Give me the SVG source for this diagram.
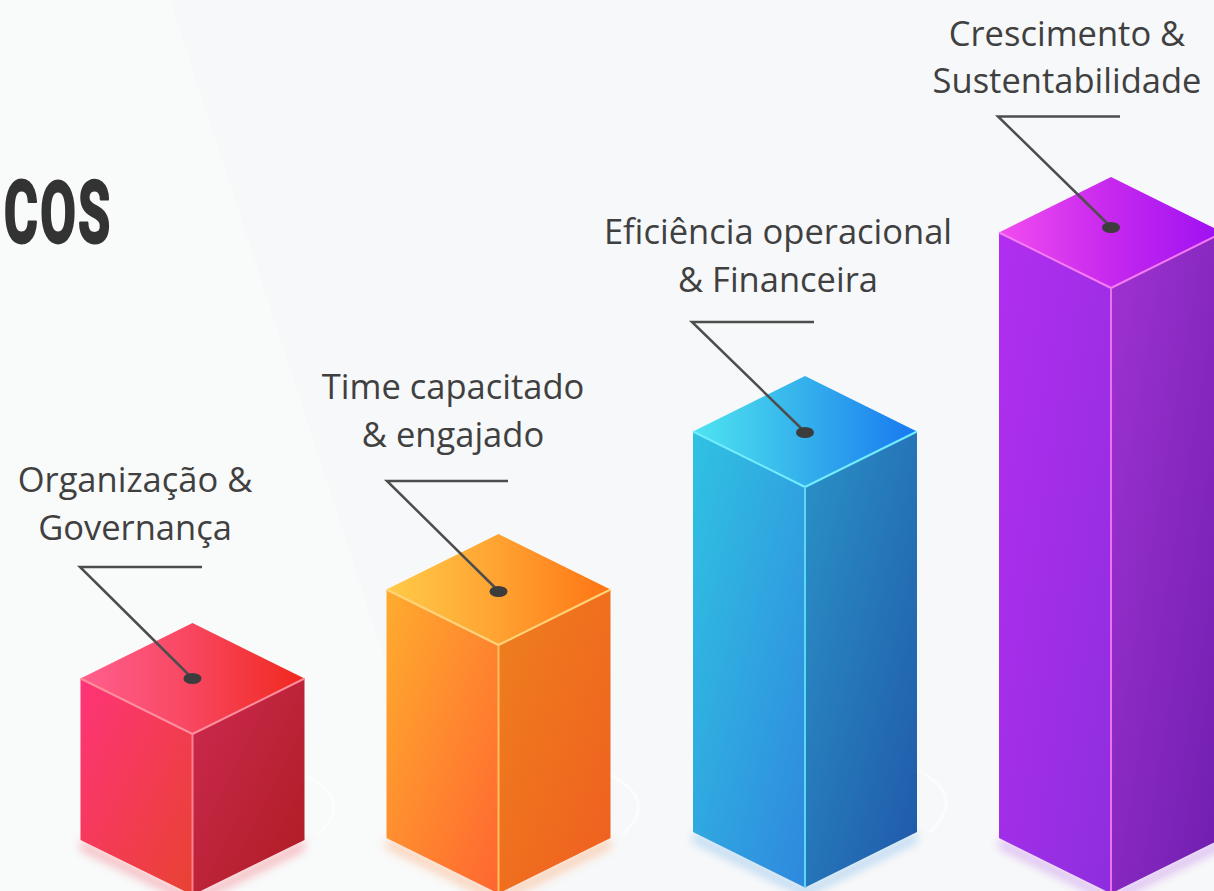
<svg xmlns="http://www.w3.org/2000/svg" width="1214" height="891" viewBox="0 0 1214 891">
  <defs>
    <style>
      .lbl { font-family: "Open Sans", "Noto Sans", "Liberation Sans", sans-serif; font-size: 34.5px; fill: #404040; text-anchor: middle; }
      .conn { fill: none; stroke: #4d4d4d; stroke-width: 2.5; stroke-linejoin: miter; }
      .dot { fill: #3c3c3c; }
      .edge { fill: none; stroke-width: 2; stroke-linejoin: round; }
      .title { font-family: "Roboto", "Liberation Sans", sans-serif; font-weight: 700; font-size: 86px; fill: #333333; stroke: #333333; stroke-width: 3; stroke-linejoin: round; letter-spacing: 4px; }
    </style>
    <filter id="soft" x="-20%" y="-20%" width="140%" height="140%">
      <feGaussianBlur stdDeviation="5"/>
    </filter>
    <!-- red -->
    <linearGradient id="rTop" x1="0" y1="0" x2="1" y2="0">
      <stop offset="0" stop-color="#ff5f8f"/><stop offset="0.5" stop-color="#f8465f"/><stop offset="1" stop-color="#f0281c"/>
    </linearGradient>
    <linearGradient id="rLeft" x1="0" y1="0" x2="1" y2="1">
      <stop offset="0" stop-color="#ff3478"/><stop offset="1" stop-color="#e84232"/>
    </linearGradient>
    <linearGradient id="rRight" x1="0" y1="0" x2="1" y2="1">
      <stop offset="0" stop-color="#cc2a50"/><stop offset="1" stop-color="#ae1c22"/>
    </linearGradient>
    <!-- orange -->
    <linearGradient id="oTop" x1="0" y1="0" x2="1" y2="0">
      <stop offset="0" stop-color="#ffcb48"/><stop offset="0.5" stop-color="#ffa232"/><stop offset="1" stop-color="#ff7414"/>
    </linearGradient>
    <linearGradient id="oLeft" x1="0" y1="0" x2="1" y2="1">
      <stop offset="0" stop-color="#ffac2e"/><stop offset="1" stop-color="#ff6630"/>
    </linearGradient>
    <linearGradient id="oRight" x1="0" y1="0" x2="1" y2="1">
      <stop offset="0" stop-color="#ee801e"/><stop offset="1" stop-color="#f05e20"/>
    </linearGradient>
    <!-- blue -->
    <linearGradient id="bTop" x1="0" y1="0" x2="1" y2="0">
      <stop offset="0" stop-color="#4ee4f0"/><stop offset="0.5" stop-color="#34b0ec"/><stop offset="1" stop-color="#1878f0"/>
    </linearGradient>
    <linearGradient id="bLeft" x1="0" y1="0" x2="1" y2="1">
      <stop offset="0" stop-color="#30c2e2"/><stop offset="1" stop-color="#2f88de"/>
    </linearGradient>
    <linearGradient id="bRight" x1="0" y1="0" x2="1" y2="1">
      <stop offset="0" stop-color="#2a92c6"/><stop offset="1" stop-color="#2058aa"/>
    </linearGradient>
    <!-- purple -->
    <linearGradient id="pTop" x1="0" y1="0" x2="1" y2="0">
      <stop offset="0" stop-color="#f24cf0"/><stop offset="0.5" stop-color="#c628ee"/><stop offset="1" stop-color="#9c10f2"/>
    </linearGradient>
    <linearGradient id="pLeft" x1="0" y1="0" x2="1" y2="1">
      <stop offset="0" stop-color="#b22ef0"/><stop offset="1" stop-color="#8e2ede"/>
    </linearGradient>
    <linearGradient id="pRight" x1="0" y1="0" x2="1" y2="1">
      <stop offset="0" stop-color="#a032d2"/><stop offset="1" stop-color="#6e1eae"/>
    </linearGradient>
  </defs>

  <!-- background -->
  <rect width="1214" height="891" fill="#f7f8f9"/>
  <polygon points="0,0 170,0 460,891 0,891" fill="#f9fafa"/>

  <!-- faint base arcs -->
  <g fill="none" stroke="#ffffff" stroke-width="3" opacity="0.6">
    <path d="M 305,775 Q 355,800 318,835"/>
    <path d="M 610,775 Q 660,800 622,835"/>
    <path d="M 917,770 Q 968,795 930,832"/>
  </g>

  <!-- title fragment -->
  <g id="title">
    <text class="title" transform="translate(4,242) scale(0.6,1)">COS</text>
  </g>

  <!-- cube 1: red -->
  <g id="cube-organizacao">
    <polygon points="80.5,840 192.5,895 304.5,840 304.5,850 192.5,905 80.5,850" fill="#f04050" opacity="0.35" filter="url(#soft)"/>
    <polygon points="80.5,678.5 192.5,734 192.5,895 80.5,840" fill="url(#rLeft)"/>
    <polygon points="192.5,734 304.5,678.5 304.5,840 192.5,895" fill="url(#rRight)"/>
    <polygon points="192.5,623 304.5,678.5 192.5,734 80.5,678.5" fill="url(#rTop)"/>
    <polyline class="edge" stroke="#ff8e9c" points="80.5,678.5 192.5,734 304.5,678.5"/>
    <line class="edge" stroke="#ff8090" x1="192.5" y1="734" x2="192.5" y2="895"/>
    <text class="lbl" x="135" y="492">Organização &amp;</text>
    <text class="lbl" x="135" y="540">Governança</text>
  </g>

  <!-- cube 2: orange -->
  <g id="cube-time">
    <polygon points="386.5,838 498.5,893.5 610.5,838 610.5,848 498.5,903 386.5,848" fill="#ff8030" opacity="0.35" filter="url(#soft)"/>
    <polygon points="386.5,589.5 498.5,645 498.5,893.5 386.5,838" fill="url(#oLeft)"/>
    <polygon points="498.5,645 610.5,589.5 610.5,838 498.5,893.5" fill="url(#oRight)"/>
    <polygon points="498.5,534 610.5,589.5 498.5,645 386.5,589.5" fill="url(#oTop)"/>
    <polyline class="edge" stroke="#ffd47a" points="386.5,589.5 498.5,645 610.5,589.5"/>
    <line class="edge" stroke="#ffbe60" x1="498.5" y1="645" x2="498.5" y2="893.5"/>
    <text class="lbl" x="453" y="399">Time capacitado</text>
    <text class="lbl" x="453" y="447">&amp; engajado</text>
  </g>

  <!-- cube 3: blue -->
  <g id="cube-eficiencia">
    <polygon points="693,832 805,887.5 917,832 917,842 805,897 693,842" fill="#3090e0" opacity="0.3" filter="url(#soft)"/>
    <polygon points="693,431.5 805,487 805,887.5 693,832" fill="url(#bLeft)"/>
    <polygon points="805,487 917,431.5 917,832 805,887.5" fill="url(#bRight)"/>
    <polygon points="805,376 917,431.5 805,487 693,431.5" fill="url(#bTop)"/>
    <polyline class="edge" stroke="#72ecff" points="693,431.5 805,487 917,431.5"/>
    <line class="edge" stroke="#5ad8f8" x1="805" y1="487" x2="805" y2="887.5"/>
    <text class="lbl" x="778" y="244">Eficiência operacional</text>
    <text class="lbl" x="778" y="292">&amp; Financeira</text>
  </g>

  <!-- cube 4: purple -->
  <g id="cube-crescimento">
    <polygon points="999,838 1111,893.5 1223,838 1223,848 1111,903 999,848" fill="#a030e0" opacity="0.3" filter="url(#soft)"/>
    <polygon points="999,232.5 1111,288 1111,893.5 999,838" fill="url(#pLeft)"/>
    <polygon points="1111,288 1223,232.5 1223,838 1111,893.5" fill="url(#pRight)"/>
    <polygon points="1111,177 1223,232.5 1111,288 999,232.5" fill="url(#pTop)"/>
    <polyline class="edge" stroke="#f47cf4" points="999,232.5 1111,288 1223,232.5"/>
    <line class="edge" stroke="#f070f0" x1="1111" y1="288" x2="1111" y2="893.5"/>
    <text class="lbl" x="1067" y="46">Crescimento &amp;</text>
    <text class="lbl" x="1067" y="93">Sustentabilidade</text>
  </g>

  <!-- connectors -->
  <g id="connectors">
    <polyline class="conn" points="202,567 80,567 192,678"/>
    <polyline class="conn" points="508,481 387,481 498.5,591"/>
    <polyline class="conn" points="814,322 692,322 805,432"/>
    <polyline class="conn" points="1120,116.5 998,116.5 1111,227"/>
    <ellipse class="dot" cx="192.5" cy="678.5" rx="9" ry="5.5"/>
    <ellipse class="dot" cx="498.5" cy="591.5" rx="9" ry="5.5"/>
    <ellipse class="dot" cx="805" cy="432.5" rx="9" ry="5.5"/>
    <ellipse class="dot" cx="1111" cy="227.5" rx="9" ry="5.5"/>
  </g>
</svg>
